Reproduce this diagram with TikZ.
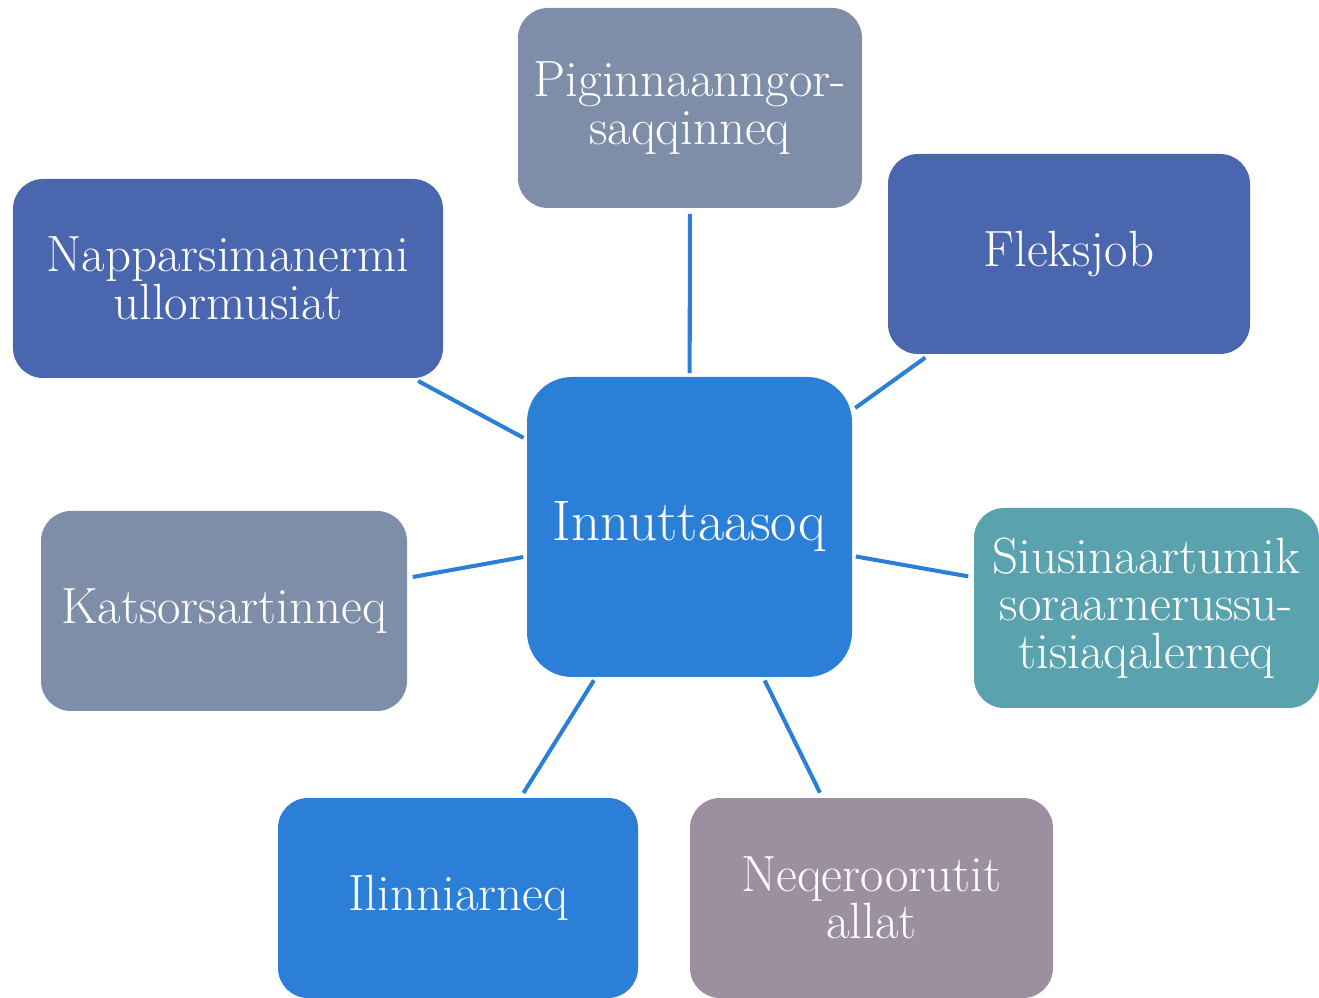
\documentclass[tikz,border=0pt]{standalone}
\usepackage{tikz}
\usetikzlibrary{calc,positioning}
\definecolor{hubblue}{HTML}{2B7FD6}
\definecolor{deepblue}{HTML}{4A66AE}
\definecolor{slategray}{HTML}{7F8EA8}
\definecolor{tealbox}{HTML}{5AA2AE}
\definecolor{mauvebox}{HTML}{9C8FA0}
\definecolor{spoke}{HTML}{2B7FD6}

\begin{document}
\begin{tikzpicture}[
          hub/.style={rectangle,rounded corners=0.9cm,fill=hubblue,text=white,
            minimum width=6.5cm,minimum height=6.0cm,align=center,inner sep=0pt,
            font=\fontsize{32.5}{34}\selectfont},
          leaf/.style={rectangle,rounded corners=0.6cm,text=white,
            minimum height=4.0cm,align=center,inner sep=0pt,
            font=\fontsize{29}{27}\selectfont},
          link/.style={draw=spoke,line width=2.3pt,shorten <=0.07cm,shorten >=0.11cm}
        ]
          \useasboundingbox (0,0) rectangle (26.38,19.94);
          \node[hub] (ctr) at (13.79,9.40) {Innuttaasoq};
          \node[leaf,fill=slategray,minimum width=6.88cm] (pig) at (13.80,17.78) {Piginnaanngor-\\saqqinneq};
          \node[leaf,fill=deepblue,minimum width=7.24cm] (flex) at (21.38,14.86) {Fleksjob};
          \node[leaf,fill=deepblue,minimum width=8.6cm,minimum height=3.98cm] (napp) at (4.56,14.37) {Napparsimanermi\\ullormusiat};
          \node[leaf,fill=slategray,minimum width=7.32cm] (kats) at (4.48,7.72) {Katsorsartinneq};
          \node[leaf,fill=tealbox,minimum width=6.9cm] (siu) at (22.93,7.78) {Siusinaartumik\\soraarnerussu-\\tisiaqalerneq};
          \node[leaf,fill=hubblue,minimum width=7.2cm] (ilin) at (9.16,1.98) {Ilinniarneq};
          \node[leaf,fill=mauvebox,minimum width=7.26cm] (neq) at (17.43,1.98) {Neqeroorutit\\allat};
          \foreach \leafname in {pig,flex,napp,kats,siu,ilin,neq}
            \draw[link] (ctr) -- (\leafname);
        \end{tikzpicture}
\end{document}
